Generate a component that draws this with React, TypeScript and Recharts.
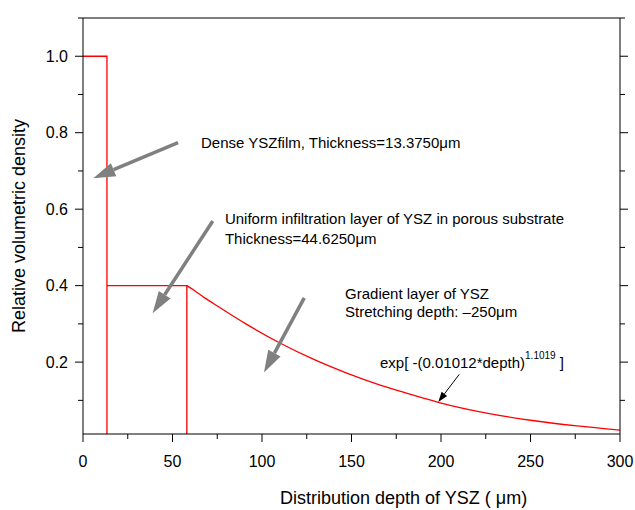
import { LineChart, Line, XAxis, YAxis, ReferenceLine, ReferenceDot } from "recharts";

// step profile: dense film then uniform infiltration layer (drawn as one red polyline)
const stepDepth = [0, 13.375, 13.375, 13.375, 58, 58, 58];
const stepDensity = [1, 1, 0, 0.4, 0.4, 0, 0.4];

// gradient layer
const curveDepth = [58, 62, 68, 76, 91, 110, 128, 147, 166, 177, 200, 224, 250, 276, 300];
const curveDensity = [0.4, 0.388, 0.368, 0.344, 0.3, 0.25, 0.209, 0.172, 0.14, 0.124, 0.093, 0.068, 0.048, 0.033, 0.022];

const depthTicks = [0, 25, 50, 75, 100, 125, 150, 175, 200, 225, 250, 275, 300];
const densityTicks = [0.1, 0.2, 0.3, 0.4, 0.5, 0.6, 0.7, 0.8, 0.9, 1.0, 1.1];

const FONT = '"Liberation Sans", Arial, Helvetica, sans-serif';
const RED = "#ff0000";
const GREY = "#808080";

const stepData = stepDepth.map((d, i) => ({ depth: d, density: stepDensity[i] }));
const curveData = curveDepth.map((d, i) => ({ depth: d, density: curveDensity[i] }));

function XTick(p: any) {
  const v = p.payload.value;
  const major = v % 50 === 0;
  const dir = p.top ? -1 : 1;
  return (
    <g>
      <line x1={p.x} y1={p.y} x2={p.x} y2={p.y + dir * (major ? 8 : 5)} stroke="#000" />
      {!p.top && major && (
        <text x={p.x} y={p.y + 33} textAnchor="middle" fontSize={16} fontFamily={FONT} fill="#000">
          {v}
        </text>
      )}
    </g>
  );
}

function YTick(p: any) {
  const v = p.payload.value;
  const major = Math.round(v * 10) % 2 === 0 && v < 1.05;
  const dir = p.right ? 1 : -1;
  return (
    <g>
      <line x1={p.x} y1={p.y} x2={p.x + dir * (major ? 8 : 5)} y2={p.y} stroke="#000" />
      {!p.right && major && (
        <text x={p.x - 15} y={p.y} dy="0.36em" textAnchor="end" fontSize={16} fontFamily={FONT} fill="#000">
          {v.toFixed(1)}
        </text>
      )}
    </g>
  );
}

function arrow(color: string, width: number, headLen: number, headHalf: number) {
  return (p: any) => {
    const { x1, y1, x2, y2 } = p;
    const a = Math.atan2(y2 - y1, x2 - x1);
    const bx = x2 - headLen * Math.cos(a);
    const by = y2 - headLen * Math.sin(a);
    const nx = -Math.sin(a) * headHalf;
    const ny = Math.cos(a) * headHalf;
    return (
      <g>
        <line x1={x1} y1={y1} x2={bx} y2={by} stroke={color} strokeWidth={width} />
        <polygon points={`${x2},${y2} ${bx + nx},${by + ny} ${bx - nx},${by - ny}`} fill={color} />
      </g>
    );
  };
}

function note(lines: string[], gap: number) {
  return (p: any) => (
    <text x={p.cx} y={p.cy} fontSize={15} fontFamily={FONT} fill="#000">
      {lines.map((l, i) => (
        <tspan key={i} x={p.cx} dy={i === 0 ? 0 : gap}>
          {l}
        </tspan>
      ))}
    </text>
  );
}

const formula = (p: any) => (
  <text x={p.cx} y={p.cy} fontSize={15} fontFamily={FONT} fill="#000">
    exp[ -(0.01012*depth)
    <tspan fontSize={10} dy={-9}>1.1019</tspan>
    <tspan dy={9}> ]</tspan>
  </text>
);

export default function App() {
  return (
    <div style={{ position: "absolute", left: 0, top: 0, background: "#fff" }}>
      <LineChart width={635} height={510} margin={{ top: 8, right: 5, bottom: 16, left: 13 }}>
        <XAxis
          dataKey="depth"
          type="number"
          domain={[0, 300]}
          ticks={depthTicks}
          interval={0}
          height={60}
          tickLine={false}
          tickSize={0}
          tickMargin={0}
          axisLine={{ stroke: "#000" }}
          tick={(p: any) => <XTick {...p} />}
          label={(p: any) => (
            <text x={p.viewBox.x + 197} y={p.viewBox.y + 70} fontSize={18} fontFamily={FONT} fill="#000">
              Distribution depth of YSZ ( μm)
            </text>
          )}
        />
        <XAxis
          xAxisId="top"
          orientation="top"
          dataKey="depth"
          type="number"
          domain={[0, 300]}
          ticks={depthTicks}
          interval={0}
          height={10}
          tickLine={false}
          tickSize={0}
          tickMargin={0}
          axisLine={{ stroke: "#000" }}
          tick={(p: any) => <XTick {...p} top />}
        />
        <YAxis
          type="number"
          domain={[0.012, 1.1]}
          allowDataOverflow
          ticks={densityTicks}
          interval={0}
          width={70}
          tickLine={false}
          tickSize={0}
          tickMargin={0}
          axisLine={{ stroke: "#000" }}
          tick={(p: any) => <YTick {...p} />}
          label={(p: any) => (
            <text
              x={p.viewBox.x + 12}
              y={p.viewBox.y + 208}
              transform={`rotate(-90 ${p.viewBox.x + 12} ${p.viewBox.y + 208})`}
              textAnchor="middle"
              fontSize={18}
              fontFamily={FONT}
              fill="#000"
            >
              Relative volumetric density
            </text>
          )}
        />
        <YAxis
          yAxisId="right"
          orientation="right"
          type="number"
          domain={[0.012, 1.1]}
          allowDataOverflow
          ticks={densityTicks}
          interval={0}
          width={10}
          tickLine={false}
          tickSize={0}
          tickMargin={0}
          axisLine={{ stroke: "#000" }}
          tick={(p: any) => <YTick {...p} right />}
        />
        <Line data={stepData} dataKey="density" type="linear" stroke={RED} strokeWidth={1.3} dot={false} isAnimationActive={false} />
        <Line data={curveData} dataKey="density" type="monotone" stroke={RED} strokeWidth={1.3} dot={false} isAnimationActive={false} />

        <ReferenceLine segment={[{ x: 53.1, y: 0.774 }, { x: 5.75, y: 0.681 }]} shape={arrow(GREY, 3.5, 22, 7)} />
        <ReferenceLine segment={[{ x: 72.5, y: 0.569 }, { x: 38.9, y: 0.328 }]} shape={arrow(GREY, 3.5, 22, 7)} />
        <ReferenceLine segment={[{ x: 123.6, y: 0.368 }, { x: 101.1, y: 0.173 }]} shape={arrow(GREY, 3.5, 22, 7)} />
        <ReferenceLine segment={[{ x: 210.2, y: 0.168 }, { x: 198.5, y: 0.096 }]} shape={arrow("#000", 1, 10, 3.5)} />

        <ReferenceDot x={65.9} y={0.759} r={0} shape={note(["Dense YSZfilm, Thickness=13.3750μm"], 20)} />
        <ReferenceDot
          x={79.3}
          y={0.56}
          r={0}
          shape={note(["Uniform infiltration layer of YSZ in porous substrate", "Thickness=44.6250μm"], 20)}
        />
        <ReferenceDot x={146.4} y={0.365} r={0} shape={note(["Gradient layer of YSZ", "Stretching depth: –250μm"], 18)} />
        <ReferenceDot x={165.9} y={0.184} r={0} shape={formula} />
      </LineChart>
    </div>
  );
}
